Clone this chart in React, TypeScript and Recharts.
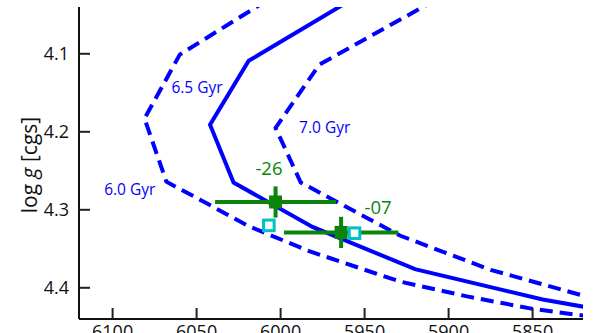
import React from 'react';
import { ComposedChart, Line, Scatter, XAxis, YAxis, ErrorBar, Label } from 'recharts';

// Isochrones: Teff [K], log g [cgs]
const iso60 = [
  { t: 5998, g: 4.018 },
  { t: 6060, g: 4.101 },
  { t: 6081, g: 4.183 },
  { t: 6068, g: 4.264 },
  { t: 6048, g: 4.287 },
  { t: 6019, g: 4.321 },
  { t: 5983, g: 4.353 },
  { t: 5929, g: 4.392 },
  { t: 5889, g: 4.411 },
  { t: 5850, g: 4.427 },
  { t: 5815, g: 4.437 },
];
const iso65 = [
  { t: 5948, g: 4.018 },
  { t: 6019, g: 4.109 },
  { t: 6042, g: 4.191 },
  { t: 6028, g: 4.265 },
  { t: 5981, g: 4.322 },
  { t: 5920, g: 4.376 },
  { t: 5844, g: 4.415 },
  { t: 5815, g: 4.426 },
];
const iso70 = [
  { t: 5897, g: 4.018 },
  { t: 5977, g: 4.114 },
  { t: 6003, g: 4.195 },
  { t: 5988, g: 4.265 },
  { t: 5929, g: 4.333 },
  { t: 5875, g: 4.377 },
  { t: 5815, g: 4.413 },
];

// Stars (spectroscopic) with errors
const stars = [
  { t: 6003, g: 4.29, et: 36, eg: 0.02 },
  { t: 5964, g: 4.329, et: 34, eg: 0.02 },
];
// Alternative solutions (open squares)
const altStars = [
  { t: 6007, g: 4.32 },
  { t: 5956, g: 4.33 },
];

const isoLabels = [
  { t: 6105, g: 4.281, text: '6.0 Gyr' },
  { t: 6065, g: 4.150, text: '6.5 Gyr' },
  { t: 5989, g: 4.201, text: '7.0 Gyr' },
];
const starLabels = [
  { t: 6015, g: 4.256, text: '-26' },
  { t: 5950, g: 4.306, text: '-07' },
];

const xTicks = [6100, 6050, 6000, 5950, 5900, 5850];
const yTicks = [4.1, 4.2, 4.3, 4.4];
const xDomain = [5820, 6120];
const yDomain = [4.04, 4.44];

const BLUE = '#0000ff';
const GREEN = '#0a840a';
const CYAN = '#00c0c8';
const FONT = '"Open Sans", "DejaVu Sans", sans-serif';

const LeftTick = (p: any) => (
  <g>
    <line x1={p.x} x2={p.x + 11} y1={p.y} y2={p.y} stroke="#222" strokeWidth={2} />
    <text x={p.x - 10} y={p.y} dy="0.36em" textAnchor="end" fontSize={18} fill="#111" fontFamily={FONT}>
      {p.payload.value}
    </text>
  </g>
);
const RightTick = (p: any) => (
  <line x1={p.x - 11} x2={p.x} y1={p.y} y2={p.y} stroke="#333" strokeWidth={2} />
);
const BottomTick = (p: any) => (
  <g>
    <line x1={p.x} x2={p.x} y1={p.y} y2={p.y - 11} stroke="#222" strokeWidth={2} />
    <text x={p.x} y={p.y + 6} dy="0.72em" textAnchor="middle" fontSize={18} fill="#111" fontFamily={FONT}>
      {p.payload.value}
    </text>
  </g>
);
const TopTick = (p: any) => (
  <line x1={p.x} x2={p.x} y1={p.y} y2={p.y + 11} stroke="#333" strokeWidth={2} />
);

const FilledSquare = (p: any) => (
  <rect x={p.cx - 6.5} y={p.cy - 6.5} width={13} height={13} fill={GREEN} />
);
const OpenSquare = (p: any) => (
  <rect x={p.cx - 5.3} y={p.cy - 5.3} width={10.6} height={10.6} fill="#fff" stroke={CYAN} strokeWidth={3} />
);
const IsoText = (p: any) => (
  <text x={p.cx} y={p.cy} fontSize={15.5} fill={BLUE} fontFamily={FONT}>
    {p.payload.text}
  </text>
);
const StarText = (p: any) => (
  <text x={p.cx} y={p.cy} fontSize={18.5} fill={GREEN} fontFamily={FONT}>
    {p.payload.text}
  </text>
);

const YLabel = (props: any) => {
  const vb = props.viewBox || { x: 0, y: 7, width: 79, height: 312 };
  const cx = vb.x + 37;
  const cy = vb.y + vb.height / 2 + 2;
  return (
    <g transform={`translate(${cx},${cy})`}>
      <text x={0} y={0} transform="rotate(-90)" textAnchor="middle" fontSize={21} fill="#111" fontFamily={FONT}>
        log <tspan fontStyle="italic">g</tspan> [cgs]
      </text>
    </g>
  );
};

export default function App() {
  return (
    <div style={{ position: 'absolute', left: 0, top: 0, width: 598, height: 333, overflow: 'hidden', background: '#fff' }}>
      <ComposedChart width={598} height={360} margin={{ top: 7, right: 15, bottom: 11, left: 0 }}>
        <XAxis
          dataKey="t"
          type="number"
          domain={xDomain}
          ticks={xTicks}
          reversed
          allowDataOverflow
          height={30}
          tickSize={0}
          tickMargin={0}
          tick={<BottomTick />}
          axisLine={{ stroke: '#111', strokeWidth: 2 }}
          tickLine={false}
        />
        <XAxis
          xAxisId="top"
          orientation="top"
          type="number"
          domain={xDomain}
          ticks={xTicks}
          reversed
          allowDataOverflow
          height={0}
          tickSize={0}
          tickMargin={0}
          tick={<TopTick />}
          axisLine={{ stroke: '#333', strokeWidth: 1.5 }}
          tickLine={false}
        />
        <YAxis
          dataKey="g"
          type="number"
          domain={yDomain}
          ticks={yTicks}
          reversed
          allowDataOverflow
          width={79}
          tickSize={0}
          tickMargin={0}
          tick={<LeftTick />}
          axisLine={{ stroke: '#111', strokeWidth: 2 }}
          tickLine={false}
        >
          <Label content={<YLabel />} />
        </YAxis>
        <YAxis
          yAxisId="right"
          orientation="right"
          type="number"
          domain={yDomain}
          ticks={yTicks}
          reversed
          allowDataOverflow
          width={0}
          tickSize={0}
          tickMargin={0}
          tick={<RightTick />}
          axisLine={{ stroke: '#666', strokeWidth: 2 }}
          tickLine={false}
        />
        <Line data={iso60} dataKey="g" stroke={BLUE} strokeWidth={4} strokeDasharray="13 7" dot={false} isAnimationActive={false} strokeLinejoin="miter" />
        <Line data={iso65} dataKey="g" stroke={BLUE} strokeWidth={4} dot={false} isAnimationActive={false} strokeLinejoin="miter" />
        <Line data={iso70} dataKey="g" stroke={BLUE} strokeWidth={4} strokeDasharray="13 7" dot={false} isAnimationActive={false} strokeLinejoin="miter" />
        <Scatter data={stars} dataKey="g" shape={<FilledSquare />} isAnimationActive={false}>
          <ErrorBar dataKey="et" direction="x" width={0} stroke={GREEN} strokeWidth={4} />
          <ErrorBar dataKey="eg" direction="y" width={0} stroke={GREEN} strokeWidth={4} />
        </Scatter>
        <Scatter data={altStars} dataKey="g" shape={<OpenSquare />} isAnimationActive={false} />
        <Scatter data={isoLabels} dataKey="g" shape={<IsoText />} isAnimationActive={false} />
        <Scatter data={starLabels} dataKey="g" shape={<StarText />} isAnimationActive={false} />
      </ComposedChart>
    </div>
  );
}
